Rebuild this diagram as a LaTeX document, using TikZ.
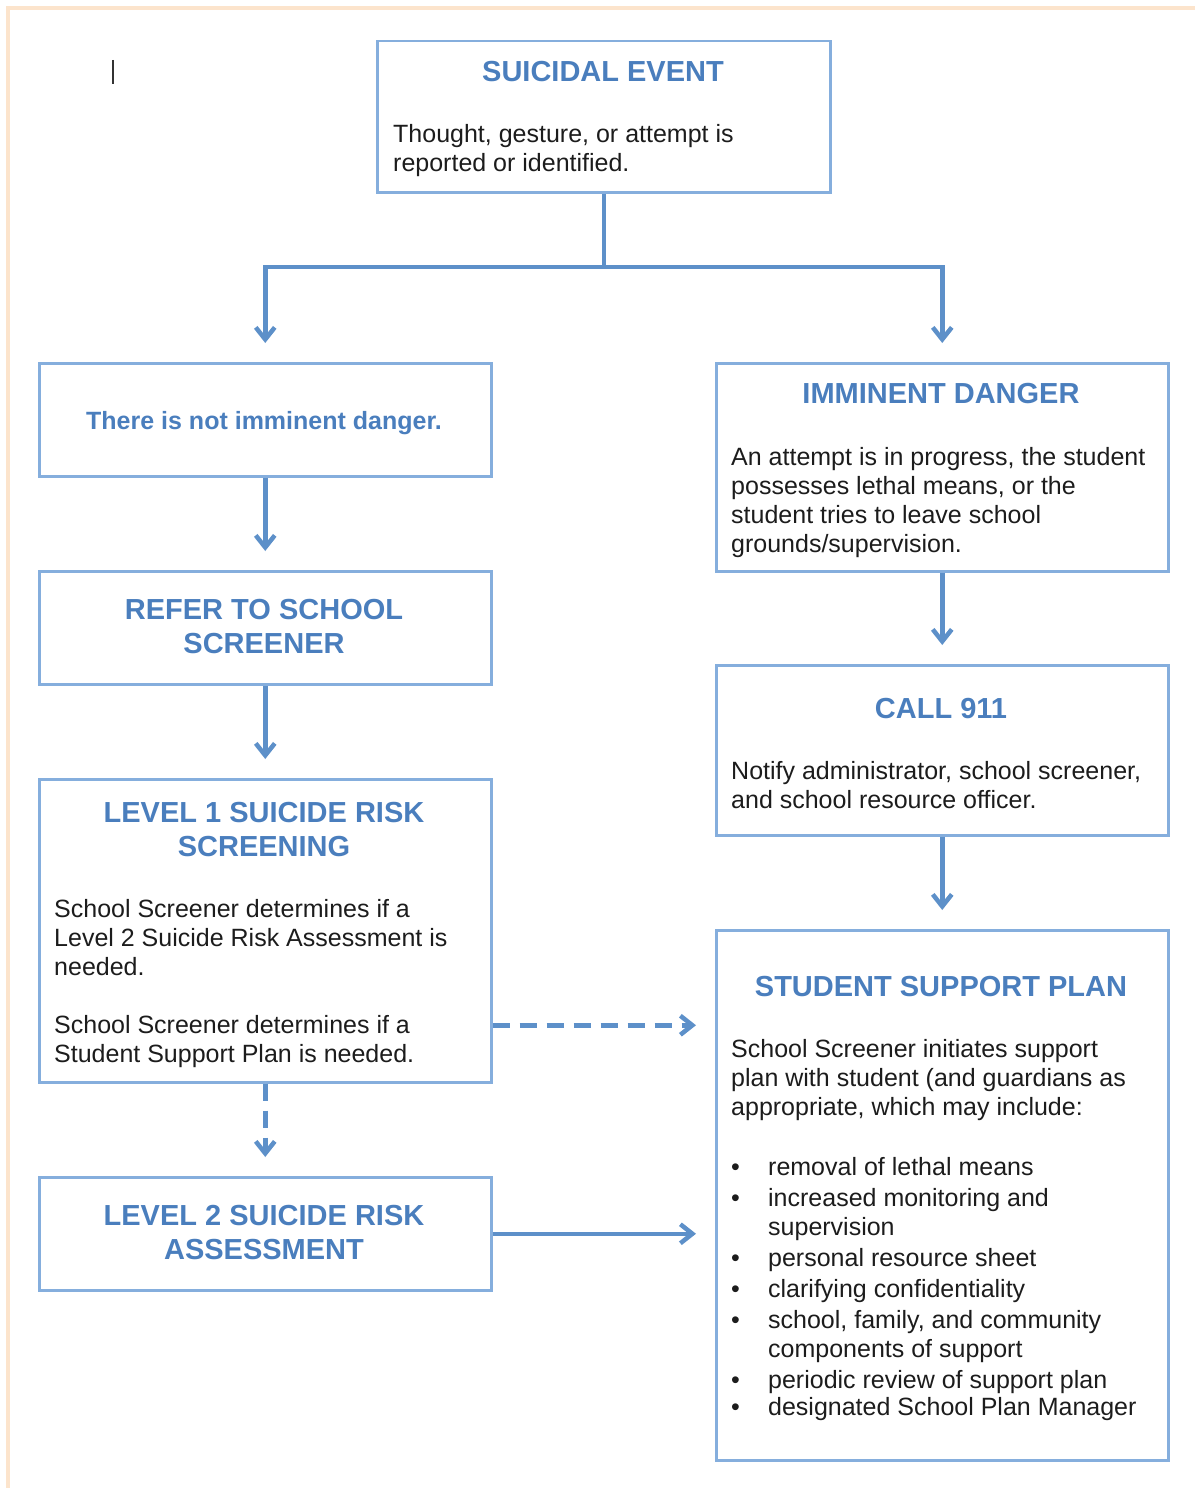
\documentclass[tikz,border=0pt]{standalone}
\usepackage{fontspec}
\setmainfont{Liberation Sans}
\usepackage{tikz}
\usetikzlibrary{arrows.meta}
\definecolor{boxline}{HTML}{85AEDD}
\definecolor{linkblue}{HTML}{5D90C9}
\definecolor{titleblue}{HTML}{4A7EBD}
\definecolor{bodytext}{HTML}{1C1C1C}
\definecolor{frame}{HTML}{FCE4CC}
\tikzstyle{box}=[draw=boxline, line width=2.5pt, anchor=north west, inner sep=0pt, minimum width=452pt]
\tikzstyle{title}=[text=titleblue, font=\fontsize{29}{33.5}\selectfont\bfseries, align=center, anchor=north, inner sep=0pt]
\tikzstyle{body}=[text=bodytext, font=\fontsize{25}{29}\selectfont, align=left, anchor=north west, inner sep=0pt]
\tikzstyle{wire}=[draw=linkblue, line width=4.5pt]
\tikzstyle{link}=[wire, -{Straight Barb[length=12pt,width=19pt]}, shorten >=19pt]
\tikzstyle{dashlink}=[link, dash pattern=on 17pt off 10pt]
\newcommand{\bul}{\makebox[37pt][l]{\textbullet}}
\newcommand{\ind}{\hspace*{37pt}}

\begin{document}
\begin{tikzpicture}[x=1pt, y=-1pt]
                \useasboundingbox (0,0) rectangle (1195,1488);
                \draw[frame, line width=4pt] (8,1488) -- (8,8) -- (1195,8);
                \draw[black!80, line width=1.8pt] (113,60) -- (113,84);

                % boxes
                \node[box, minimum width=453pt, minimum height=151pt] (event) at (376,40) {};
                \node[box, minimum height=113pt] (nodanger) at (38,362) {};
                \node[box, minimum height=208pt] (danger) at (715,362) {};
                \node[box, minimum height=113pt] (refer) at (38,570) {};
                \node[box, minimum height=170pt] (call) at (715,664) {};
                \node[box, minimum height=303pt] (screen) at (38,778) {};
                \node[box, minimum height=530pt] (plan) at (715,929) {};
                \node[box, minimum height=113pt] (assess) at (38,1176) {};

                % texts
                \node[title] (eventtitle) at (603,58) {\strut SUICIDAL EVENT};
                \node[body] (eventtext) at (393,121.7) {\strut Thought, gesture, or attempt is\\reported or identified.};
                \node[title, font=\fontsize{25}{29}\selectfont\bfseries] (nodangertitle) at (264,408.7) {\strut There is not imminent danger.};
                \node[title] (dangertitle) at (941,380) {\strut IMMINENT DANGER};
                \node[body] (dangertext) at (731,444.7) {\strut An attempt is in progress, the student\\possesses lethal means, or the\\student tries to leave school\\grounds/supervision.};
                \node[title] (refertitle) at (264,596) {\strut REFER TO SCHOOL\\SCREENER};
                \node[title] (calltitle) at (941,695) {\strut CALL 911};
                \node[body] (calltext) at (731,758.7) {\strut Notify administrator, school screener,\\and school resource officer.};
                \node[title] (screentitle) at (264,799) {\strut LEVEL 1 SUICIDE RISK\\SCREENING};
                \node[body] (screentext) at (54,896.7) {\strut School Screener determines if a\\Level 2 Suicide Risk Assessment is\\needed.\\[29pt]School Screener determines if a\\Student Support Plan is needed.};
                \node[title] (plantitle) at (941,973) {\strut STUDENT SUPPORT PLAN};
                \node[body] (plantext) at (731,1036.7) {\strut School Screener initiates support\\plan with student (and guardians as\\appropriate, which may include:};
                \node[body] (planlist) at (731,1154.7) {\strut\bul removal of lethal means\\[2pt]
                    \bul increased monitoring and\\\ind supervision\\[2pt]
                    \bul personal resource sheet\\[2pt]
                    \bul clarifying confidentiality\\[2pt]
                    \bul school, family, and community\\\ind components of support\\[2pt]
                    \bul periodic review of support plan\\[-2pt]
                    \bul designated School Plan Manager};
                \node[title] (assesstitle) at (264,1202) {\strut LEVEL 2 SUICIDE RISK\\ASSESSMENT};

                % connectors
                \coordinate (split) at (event.south |- 0,267);
                \coordinate (dashstart) at ([yshift=-94.5pt]screen.east);
                \draw[wire] (event.south) -- (split);
                \draw[link] (split) -| (nodanger.north);
                \draw[link] (split) -| (danger.north);
                \draw[link] (nodanger.south) -- (refer.north);
                \draw[link] (refer.south) -- (screen.north);
                \draw[link] (danger.south) -- (call.north);
                \draw[link] (call.south) -- (plan.north);
                \draw[dashlink] (screen.south) -- (assess.north);
                \draw[dashlink] (dashstart) -- (dashstart -| plan.west);
                \draw[link] (assess.east) -- (assess.east -| plan.west);
            \end{tikzpicture}
\end{document}
